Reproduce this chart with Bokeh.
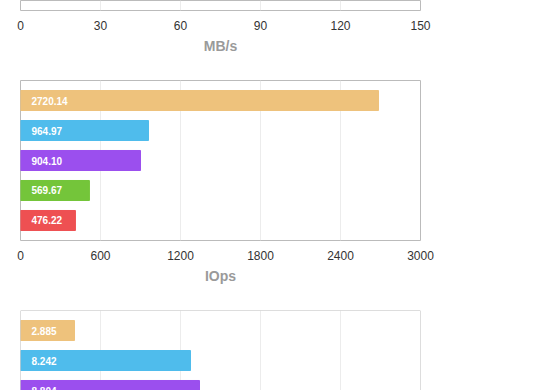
from bokeh.plotting import figure
from bokeh.layouts import column
from bokeh.models import ColumnDataSource, Range1d, FixedTicker, Span
from bokeh.embed import file_html
from bokeh.resources import INLINE
from bokeh.core.properties import value

# ---- data ----
runs = ["Run A", "Run B", "Run C", "Run D", "Run E"]
colors = ["#EEC27C", "#4FBCEC", "#9B4FEE", "#74C53A", "#EE5052"]

mbps_ticks = [0, 30, 60, 90, 120, 150]

iops_values = [2685, 960, 900, 517, 412]
iops_labels = ["2720.14", "964.97", "904.10", "569.67", "476.22"]
iops_ticks = [0, 600, 1200, 1800, 2400, 3000]

third_values = [2.7, 8.5, 8.95]
third_labels = ["2.885", "8.242", "8.804"]
third_ticks = [0, 4, 8, 12, 16, 20]

FONT = "Liberation Sans"
OUTLINE = "#bbbbbb"
GRID = "#ececec"


def base(height, frame_top, bottom, ticks, title=None, y_range=None, outline=True):
    p = figure(width=448, height=height,
               x_range=Range1d(ticks[0], ticks[-1]),
               y_range=y_range if y_range is not None else Range1d(0, 1),
               output_backend="svg", toolbar_location=None,
               y_axis_location=None,
               x_axis_location="below" if title else None,
               min_border_left=20, min_border_right=28,
               min_border_top=frame_top, min_border_bottom=bottom)
    p.outline_line_color = OUTLINE if outline else None
    p.outline_line_width = 1
    p.background_fill_color = "white"
    p.border_fill_color = "white"
    p.xgrid.ticker = FixedTicker(ticks=ticks)
    p.xgrid.grid_line_color = GRID
    p.ygrid.grid_line_color = None
    if title:
        ax = p.xaxis[0]
        ax.ticker = FixedTicker(ticks=ticks)
        ax.axis_line_color = None
        ax.major_tick_line_color = None
        ax.minor_tick_line_color = None
        ax.major_label_standoff = 4
        ax.major_label_text_font = FONT
        ax.major_label_text_font_size = "12px"
        ax.major_label_text_color = "#333333"
        ax.axis_label = title
        ax.axis_label_standoff = 5
        ax.axis_label_text_font = FONT
        ax.axis_label_text_font_size = "14px"
        ax.axis_label_text_font_style = "bold"
        ax.axis_label_text_color = "#9a9a9a"
    return p


def bars(p, vals, labels, cols):
    ys = list(range(len(vals)))
    src = ColumnDataSource(dict(y=ys, v=vals, lab=labels, c=cols))
    p.hbar(y="y", left=0, right="v", height=0.667, color="c", source=src)
    p.text(x=0, y="y", text="lab", source=src, x_offset=11,
           text_baseline="middle", text_align="left",
           text_color="white", text_font=value(FONT),
           text_font_size="10px", text_font_style="bold")


# MB/s chart (only its bottom edge is visible)
p1 = base(80, 0, 70, mbps_ticks, "MB/s")

# IOps chart
p2 = base(230, 0, 70, iops_ticks, "IOps", y_range=Range1d(4.667, -0.667))
bars(p2, iops_values, iops_labels, colors)

# third chart (only its top part is visible)
p3 = base(80, 0, 0, third_ticks, None, y_range=Range1d(2.0, -0.667), outline=False)
bars(p3, third_values, third_labels, colors[:3])
for sp in [Span(location=-0.667, dimension="width"),
           Span(location=third_ticks[0], dimension="height"),
           Span(location=third_ticks[-1], dimension="height")]:
    sp.line_color = OUTLINE
    sp.line_width = 1
    p3.add_layout(sp)

layout = column(p1, p2, p3)

open("out.html", "w").write(file_html(layout, INLINE))
